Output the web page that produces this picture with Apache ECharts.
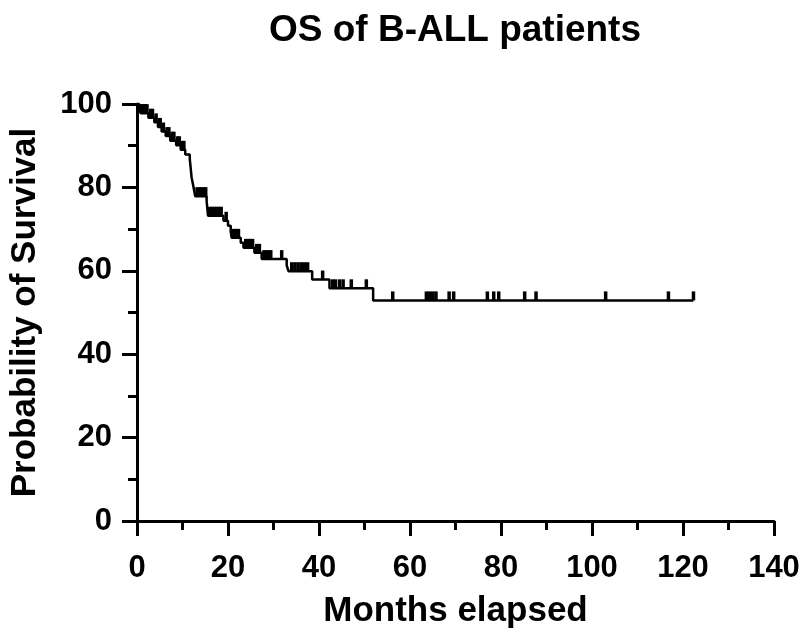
<!DOCTYPE html>
<html>
<head>
<meta charset="utf-8">
<script src="https://cdn.jsdelivr.net/npm/echarts@6/dist/echarts.min.js"></script>
<style>html,body{margin:0;padding:0;background:#fff}#c{width:803px;height:634px}</style>
</head>
<body>
<div id="c"></div>
<script>
const titleText = "OS of B-ALL patients";
const xAxisName = "Months elapsed";
const yAxisName = "Probability of Survival";
const xTicks = [0, 20, 40, 60, 80, 100, 120, 140];
const yTicks = [0, 20, 40, 60, 80, 100];

// Kaplan-Meier steps: time of event (months) and survival (%) after it
const eventMonths = [0, 0.5, 0.8, 2.5, 3.8, 4.6, 5.4, 6.3, 7.3, 8.6, 9.6, 10.6, 11.6, 11.7, 11.8, 11.9, 12.0, 12.2, 12.4, 12.6, 12.8, 15.3, 15.4, 15.5, 15.6, 19.0, 20.0, 20.6, 20.8, 22.8, 23.4, 25.8, 27.4, 32.9, 33.3, 38.5, 42.3, 51.9, 122.3];
const survivalPct = [100, 98.9, 97.8, 96.7, 95.6, 94.5, 93.4, 92.3, 91.2, 90.1, 89.0, 87.9, 86.8, 85.7, 84.6, 83.5, 82.4, 81.3, 80.2, 79.0, 77.9, 76.7, 75.6, 74.4, 73.2, 72.0, 70.8, 69.4, 67.9, 66.7, 65.5, 64.3, 62.8, 61.3, 59.9, 57.9, 55.8, 52.9, 52.9];

// Censored observations (months)
const censorMonths = [1.0, 1.3, 1.6, 1.9, 2.2, 3.0, 3.4, 4.2, 4.9, 5.1, 5.8, 6.6, 7.0, 7.7, 8.1, 8.9, 9.3, 10.0, 10.3, 13.2, 13.7, 14.2, 14.7, 15.1, 16.0, 16.5, 17.0, 17.5, 18.0, 18.5, 19.6, 21.2, 21.7, 22.3, 23.9, 24.4, 24.9, 25.4, 26.3, 26.9, 27.9, 28.4, 28.9, 29.4, 31.8, 34.0, 34.7, 35.4, 36.1, 36.8, 37.5, 40.8, 43.0, 43.6, 44.5, 45.3, 47.1, 50.4, 56.2, 63.6, 64.3, 65.0, 65.7, 68.6, 69.6, 77.0, 78.4, 79.5, 85.2, 87.7, 103.0, 116.8, 122.3];

function survivalAt(t) {
  let s = survivalPct[0];
  for (let i = 0; i < eventMonths.length; i++) {
    if (eventMonths[i] <= t) s = survivalPct[i]; else break;
  }
  return s;
}

const stepData = eventMonths.map((t, i) => [t, survivalPct[i]]);
const censorData = censorMonths.map(t => [t, survivalAt(t)]);

const FONT = '"Liberation Sans", Arial, Helvetica, sans-serif';
const chart = echarts.init(document.getElementById('c'), null, {renderer: 'canvas'});
chart.setOption({
  animation: false,
  backgroundColor: '#fff',
  title: {
    text: titleText,
    left: 450,
    textAlign: 'center',
    top: 7,
    textStyle: {fontFamily: FONT, fontWeight: 'bold', fontSize: 37, color: '#000'}
  },
  grid: {left: 137, right: 29, top: 104, bottom: 112, containLabel: false},
  xAxis: {
    type: 'value', min: 0, max: 140, interval: 20,
    name: xAxisName, nameLocation: 'middle', nameGap: 73,
    nameTextStyle: {fontFamily: FONT, fontWeight: 'bold', fontSize: 35, color: '#000'},
    axisLine: {show: true, onZero: false, lineStyle: {color: '#000', width: 3}},
    axisTick: {show: true, length: 15, lineStyle: {color: '#000', width: 3}},
    minorTick: {show: true, splitNumber: 2, length: 9, lineStyle: {color: '#000', width: 3}},
    axisLabel: {margin: 32, fontFamily: FONT, fontWeight: 'bold', fontSize: 31, color: '#000',
      formatter: v => xTicks.includes(v) ? String(v) : ''},
    splitLine: {show: false}
  },
  yAxis: {
    type: 'value', min: 0, max: 100, interval: 20,
    name: yAxisName, nameLocation: 'middle', nameGap: 94, nameRotate: 90,
    nameTextStyle: {fontFamily: FONT, fontWeight: 'bold', fontSize: 35, color: '#000'},
    axisLine: {show: true, onZero: false, lineStyle: {color: '#000', width: 3}},
    axisTick: {show: true, length: 15, lineStyle: {color: '#000', width: 3}},
    minorTick: {show: true, splitNumber: 2, length: 9, lineStyle: {color: '#000', width: 3}},
    axisLabel: {margin: 25, fontFamily: FONT, fontWeight: 'bold', fontSize: 31, color: '#000',
      formatter: v => yTicks.includes(v) ? String(v) : ''},
    splitLine: {show: false}
  },
  series: [
    {
      type: 'line', step: 'end', data: stepData, showSymbol: false, symbol: 'none',
      lineStyle: {color: '#000', width: 2.5}, z: 3
    },
    {
      type: 'scatter', data: censorData, symbol: 'rect', symbolSize: [3.5, 9],
      symbolOffset: [0, '-50%'], itemStyle: {color: '#000', opacity: 1}, z: 4
    }
  ]
});
</script>
</body>
</html>
